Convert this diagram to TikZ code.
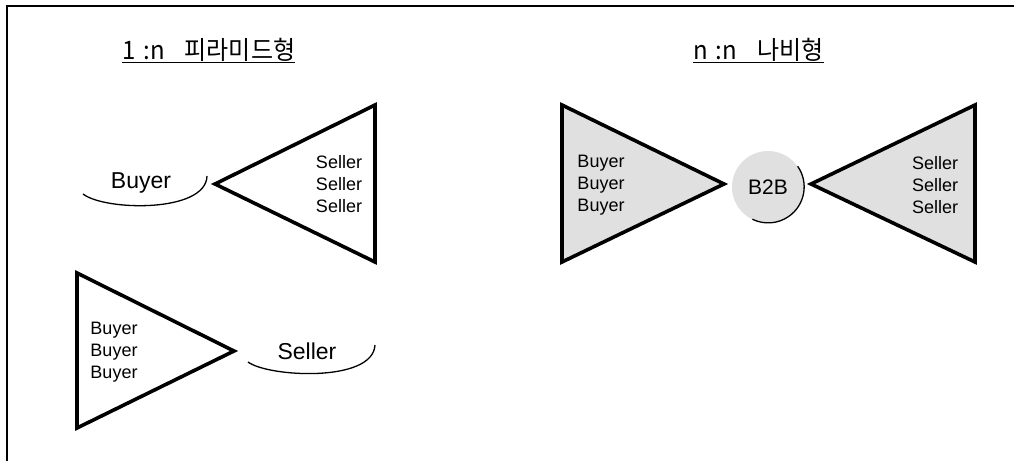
\documentclass[tikz,border=0pt]{standalone}
\usepackage{fontspec}
\setmainfont{Liberation Sans}
\newfontfamily\kr{Noto Sans CJK KR}
\begin{document}
\begin{tikzpicture}[x=1pt,y=-1pt,
  tri/.style={line width=3.6pt,line join=miter},
  shade/.style={fill=black!12},
  label/.style={inner sep=0pt,align=center,font=\fontsize{18}{22}\selectfont},
  biglabel/.style={inner sep=0pt,font=\fontsize{23}{26}\selectfont},
  title/.style={inner sep=0pt,anchor=base west,font=\kr\fontsize{24}{26}\selectfont},
  uline/.style={line width=1.4pt},
  swoosh/.style={line width=1.3pt},
  frame/.style={line width=1.6pt}]
\useasboundingbox (0,0) rectangle (1014,461);
% frame
\coordinate (fr1) at (1014,6);
\coordinate (fr2) at (7,6);
\coordinate (fr3) at (7,461);
\draw[frame] (fr1) -- (fr2) -- (fr3);
% titles
\node[title] (t1) at (122,59) {\scalebox{1}[1.06]{1\hspace{8pt}:n\hspace{20pt}피라미드형}};
\draw[uline] ([yshift=-3.5pt]t1.base west) -- ([yshift=-3.5pt]t1.base east);
\node[title] (t2) at (693,59) {\scalebox{1}[1.06]{n\hspace{8pt}:n\hspace{20pt}나비형}};
\draw[uline] ([yshift=-3.5pt]t2.base west) -- ([yshift=-3.5pt]t2.base east);
% pyramid 1: one buyer, many sellers
\coordinate (a1) at (215,184);
\coordinate (a2) at (375,105);
\coordinate (a3) at (375,262);
\draw[tri] (a1) -- (a2) -- (a3) -- cycle;
\node[label] (s1) at (339,184) {Seller\\Seller\\Seller};
\node[biglabel] (b1) at (141,183) {Buyer};
\coordinate (c1) at (83,194);
\coordinate (c2) at (207,176);
\draw[swoosh] (c1) .. controls (105,211) and (206,213) .. (c2);
% pyramid 2: many buyers, one seller
\coordinate (d1) at (77,273);
\coordinate (d2) at (77,428);
\coordinate (d3) at (234,351);
\draw[tri] (d1) -- (d3) -- (d2) -- cycle;
\node[label] (b2) at (114,352) {Buyer\\Buyer\\Buyer};
\node[biglabel] (s2) at (307,351) {Seller};
\coordinate (e1) at (248,362);
\coordinate (e2) at (375,345);
\draw[swoosh] (e1) .. controls (268,377) and (373,383) .. (e2);
% butterfly
\coordinate (f1) at (562,105);
\coordinate (f2) at (562,262);
\coordinate (f3) at (724,184);
\draw[tri,shade] (f1) -- (f3) -- (f2) -- cycle;
\coordinate (g1) at (975,105);
\coordinate (g2) at (975,262);
\coordinate (g3) at (811,184);
\draw[tri,shade] (g1) -- (g3) -- (g2) -- cycle;
\node[label] (b3) at (601,185) {Buyer\\Buyer\\Buyer};
\node[label] (s3) at (935,185) {Seller\\Seller\\Seller};
\node[circle,shade,minimum size=72pt,inner sep=0pt] (hub) at (768,187) {};
\node[inner sep=0pt,font=\fontsize{21}{24}\selectfont] (hubt) at (hub.center) {B2B};
\draw[swoosh] (hub.35) arc[start angle=35,end angle=-116,radius=36pt];
\end{tikzpicture}
\end{document}
